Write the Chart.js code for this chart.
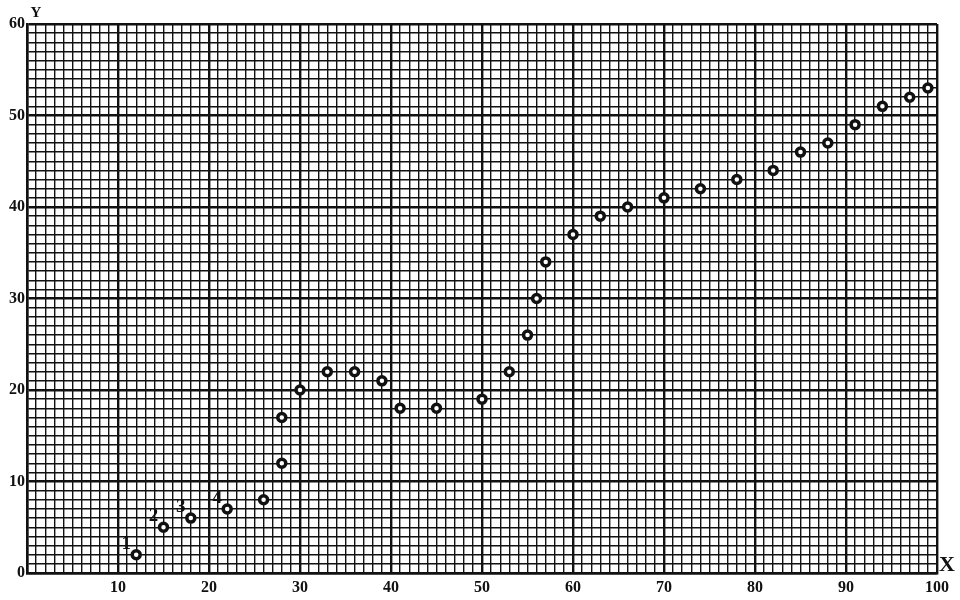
<!DOCTYPE html>
<html lang="en">
<head>
    <meta charset="UTF-8">
    <title>Graph paper plot</title>
    <script src="https://cdn.jsdelivr.net/npm/chart.js"></script>
    <style>
        html, body { margin: 0; padding: 0; background: #fff; overflow: hidden; }
        canvas { display: block; }
    </style>
</head>
<body>
    <canvas id="plot" width="960" height="600"></canvas>

    <script>
        // points
        const xValues = [12, 15, 18, 22, 26, 28, 28, 30, 33, 36, 39, 41, 45, 50, 53, 55,
                         56, 57, 60, 63, 66, 70, 74, 78, 82, 85, 88, 91, 94, 97, 99];
        const yValues = [2, 5, 6, 7, 8, 12, 17, 20, 22, 22, 21, 18, 18, 19, 22, 26,
                         30, 34, 37, 39, 40, 41, 42, 43, 44, 46, 47, 49, 51, 52, 53];
        const pointNumbers = ['1', '2', '3', '4'];
        const xTickLabels = [10, 20, 30, 40, 50, 60, 70, 80, 90, 100];
        const yTickLabels = [0, 10, 20, 30, 40, 50, 60];

        const points = xValues.map((x, i) => ({ x: x, y: yValues[i] }));
        const ink = '#111';
        const serif = '"Liberation Serif", "DejaVu Serif", serif';

        const gridWidth = ctx => (ctx.tick && ctx.tick.value % 10 === 0) ? 2.4 : 1.4;

        // letters X / Y and the numbers next to the first points
        const annotate = {
            id: 'annotate',
            afterDraw(chart) {
                const c = chart.ctx;
                const xs = chart.scales.x, ys = chart.scales.y;
                c.save();
                c.fillStyle = ink;
                c.textAlign = 'center';
                c.textBaseline = 'middle';
                c.font = 'bold 15px ' + serif;
                c.fillText('Y', xs.left + 9, ys.top - 11);
                c.font = 'bold 22px ' + serif;
                c.fillText('X', xs.right + 10, ys.bottom - 8);
                c.font = 'bold 19px ' + serif;
                pointNumbers.forEach((t, i) => {
                    const px = xs.getPixelForValue(xValues[i]);
                    const py = ys.getPixelForValue(yValues[i]);
                    c.fillText(t, px - 10, py - 11);
                });
                c.restore();
            }
        };

        new Chart(document.getElementById('plot'), {
            type: 'scatter',
            data: {
                datasets: [{
                    data: points,
                    pointRadius: 4,
                    pointBorderWidth: 3.5,
                    pointBorderColor: ink,
                    pointBackgroundColor: '#fff',
                    pointHoverRadius: 4
                }]
            },
            options: {
                responsive: false,
                animation: false,
                devicePixelRatio: 1,
                layout: { padding: { top: 24, right: 23, left: 0, bottom: 0 } },
                plugins: { legend: { display: false }, tooltip: { enabled: false } },
                scales: {
                    x: {
                        type: 'linear',
                        min: 0,
                        max: 100,
                        afterFit: s => { s.height = 27; },
                        border: { display: true, color: ink, width: 2.5 },
                        grid: { color: ink, lineWidth: gridWidth, drawTicks: false },
                        ticks: {
                            stepSize: 1,
                            autoSkip: false,
                            maxTicksLimit: 200,
                            maxRotation: 0,
                            padding: 5,
                            color: ink,
                            font: { family: serif, size: 16, weight: 'bold' },
                            callback: v => xTickLabels.includes(v) ? String(v) : ''
                        }
                    },
                    y: {
                        type: 'linear',
                        min: 0,
                        max: 60,
                        afterFit: s => { s.width = 27; },
                        border: { display: true, color: ink, width: 2.5 },
                        grid: { color: ink, lineWidth: gridWidth, drawTicks: false },
                        ticks: {
                            stepSize: 1,
                            autoSkip: false,
                            maxTicksLimit: 200,
                            padding: 2,
                            color: ink,
                            font: { family: serif, size: 16, weight: 'bold' },
                            callback: v => yTickLabels.includes(v) ? String(v) : ''
                        }
                    }
                }
            },
            plugins: [annotate]
        });
    </script>
</body>
</html>
